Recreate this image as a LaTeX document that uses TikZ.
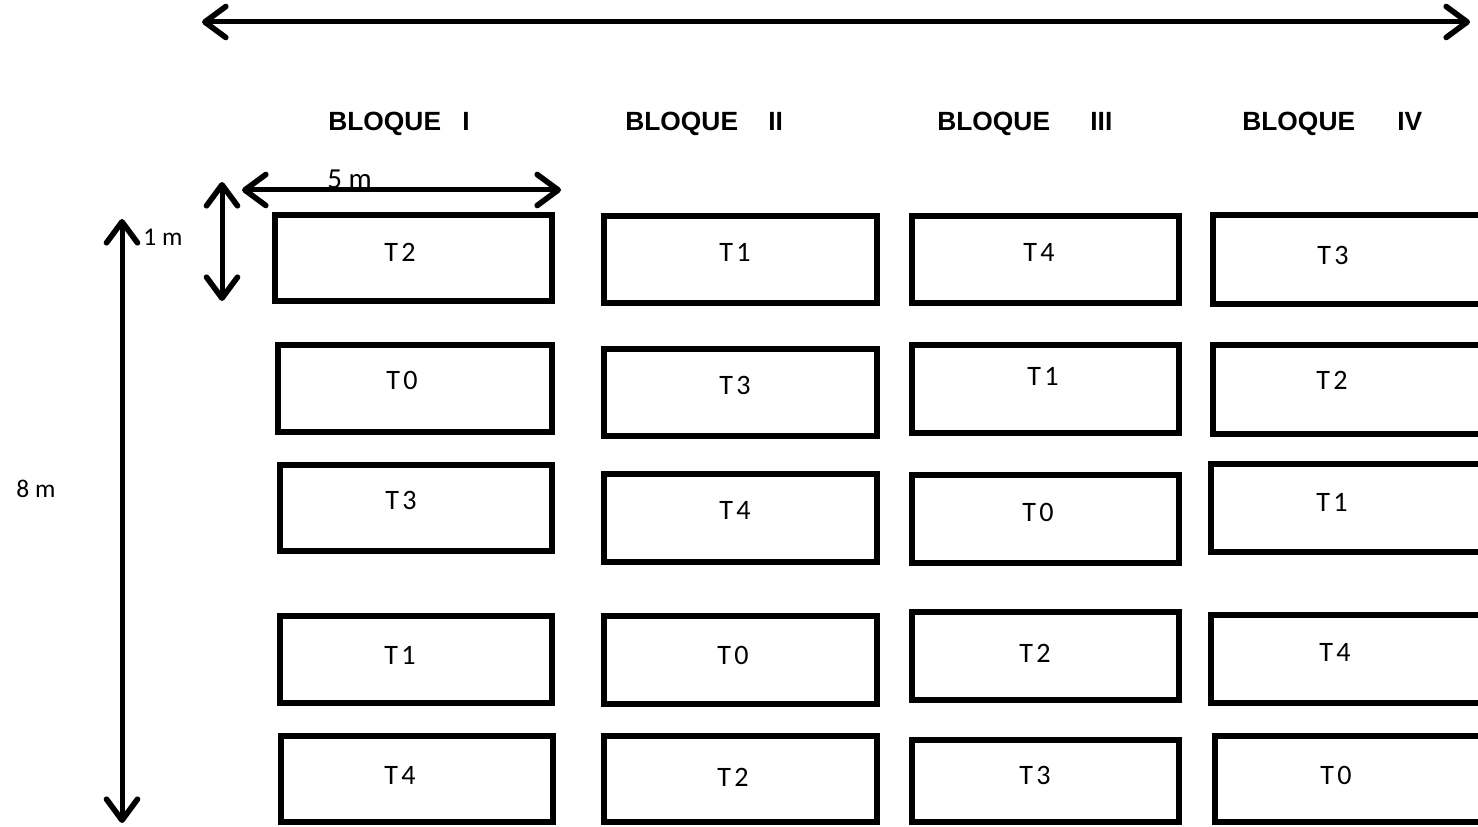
\documentclass[tikz,border=0pt]{standalone}
\usepackage{fontspec}
\setmainfont{Carlito}
\newfontfamily\bloquefont{Liberation Sans}
\usetikzlibrary{arrows.meta}

\newcommand{\trat}[1]{T\kern2pt#1}

\begin{document}
\begin{tikzpicture}[x=0.02cm, y=-0.02cm,
  parcela/.style={line width=0.11cm},
  cota/.style={line width=0.1cm, line cap=round, {Straight Barb[length=0.42cm,width=0.62cm,round,line width=3.2pt]}-{Straight Barb[length=0.42cm,width=0.62cm,round,line width=3.2pt]}},
  trat/.style={inner sep=0pt, font=\fontsize{16}{19}\selectfont},
  bloque/.style={anchor=base west, inner sep=0pt, font=\bloquefont\bfseries\fontsize{15}{18}\selectfont},
  medida/.style={inner sep=0pt, font=\fontsize{14.5}{17}\selectfont}]
  \useasboundingbox (0,0) rectangle (1478,827);
  \clip (0,0) rectangle (1478,827);

  % cotas
  \coordinate (izq) at (202,22);
  \coordinate (der) at (1470,22);
  \draw[cota] (izq) -- (der);
  \coordinate (a5i) at (242,190);
  \coordinate (a5d) at (561,190);
  \draw[cota] (a5i) -- (a5d);
  \coordinate (a1s) at (222,182);
  \coordinate (a1i) at (222,301);
  \draw[cota] (a1s) -- (a1i);
  \coordinate (a8s) at (122,219);
  \coordinate (a8i) at (122,823);
  \draw[cota] (a8s) -- (a8i);

  \node[medida, anchor=base west, font=\fontsize{16.5}{19}\selectfont] (m5) at (327,189) {5 m};
  \node[medida] (m1) at (163,237) {1 m};
  \node[medida] (m8) at (36,489) {8 m};

  % bloques
  \node[bloque] (blq1) at (328,131) {BLOQUE};
  \node[bloque] (num1) at (462,131) {I};
  \node[bloque] (blq2) at (625,131) {BLOQUE};
  \node[bloque] (num2) at (768,131) {II};
  \node[bloque] (blq3) at (937,131) {BLOQUE};
  \node[bloque] (num3) at (1090,131) {III};
  \node[bloque] (blq4) at (1242,131) {BLOQUE};
  \node[bloque] (num4) at (1397,131) {IV};

  % bloque I
  \draw[parcela] (275,215) rectangle (552,301);
  \draw[parcela] (278,345) rectangle (552,432);
  \draw[parcela] (280,465) rectangle (552,551);
  \draw[parcela] (280,616) rectangle (552,703);
  \draw[parcela] (281,736) rectangle (553,822);
  \node[trat] (t11) at (400,252) {\trat{2}};
  \node[trat] (t12) at (402,380) {\trat{0}};
  \node[trat] (t13) at (401,500) {\trat{3}};
  \node[trat] (t14) at (400,655) {\trat{1}};
  \node[trat] (t15) at (400,775) {\trat{4}};

  % bloque II
  \draw[parcela] (604,216) rectangle (877,303);
  \draw[parcela] (604,349) rectangle (877,436);
  \draw[parcela] (604,474) rectangle (877,562);
  \draw[parcela] (604,616) rectangle (877,704);
  \draw[parcela] (604,736) rectangle (877,822);
  \node[trat] (t21) at (735,252) {\trat{1}};
  \node[trat] (t22) at (735,385) {\trat{3}};
  \node[trat] (t23) at (735,510) {\trat{4}};
  \node[trat] (t24) at (733,655) {\trat{0}};
  \node[trat] (t25) at (733,777) {\trat{2}};

  % bloque III
  \draw[parcela] (912,216) rectangle (1179,303);
  \draw[parcela] (912,345) rectangle (1179,433);
  \draw[parcela] (912,475) rectangle (1179,563);
  \draw[parcela] (912,612) rectangle (1179,700);
  \draw[parcela] (912,740) rectangle (1179,822);
  \node[trat] (t31) at (1039,252) {\trat{4}};
  \node[trat] (t32) at (1043,376) {\trat{1}};
  \node[trat] (t33) at (1038,512) {\trat{0}};
  \node[trat] (t34) at (1035,653) {\trat{2}};
  \node[trat] (t35) at (1035,775) {\trat{3}};

  % bloque IV
  \draw[parcela] (1213,215) rectangle (1487,304);
  \draw[parcela] (1213,345) rectangle (1487,434);
  \draw[parcela] (1211,464) rectangle (1487,552);
  \draw[parcela] (1211,615) rectangle (1487,703);
  \draw[parcela] (1215,736) rectangle (1487,822);
  \node[trat] (t41) at (1333,255) {\trat{3}};
  \node[trat] (t42) at (1332,380) {\trat{2}};
  \node[trat] (t43) at (1332,502) {\trat{1}};
  \node[trat] (t44) at (1335,652) {\trat{4}};
  \node[trat] (t45) at (1336,775) {\trat{0}};
\end{tikzpicture}
\end{document}
